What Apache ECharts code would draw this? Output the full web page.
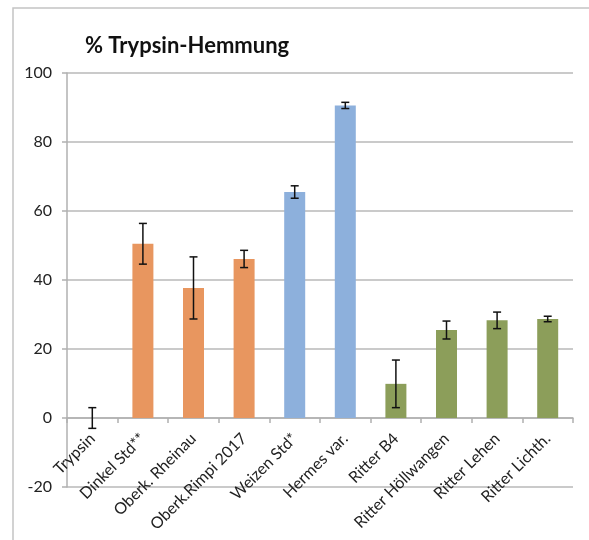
<!DOCTYPE html>
<html>
<head>
<meta charset="utf-8">
<script src="https://cdn.jsdelivr.net/npm/echarts@6/dist/echarts.min.js"></script>
<style>
  html, body { margin: 0; padding: 0; background: #fff; }
  #chart { width: 589px; height: 540px; }
</style>
</head>
<body>
<div id="chart"></div>
<script>
// Kategorien (Proben)
const categories = [
  'Trypsin', 'Dinkel Std**', 'Oberk. Rheinau', 'Oberk.Rimpi 2017', 'Weizen Std*',
  'Hermes var.', 'Ritter B4', 'Ritter Höllwangen', 'Ritter Lehen', 'Ritter Lichth.'
];
// % Hemmung (Mittelwerte)
const values = [0, 50.5, 37.7, 46.1, 65.5, 90.6, 9.9, 25.5, 28.3, 28.7];
// Standardabweichung (+/-)
const errors = [3.0, 5.9, 9.0, 2.5, 1.8, 0.9, 6.9, 2.6, 2.4, 0.8];
// Gruppe je Balken: 0 = Dinkel, 1 = Weizen, 2 = Ritter
const groups = [0, 0, 0, 0, 1, 1, 2, 2, 2, 2];
const groupColors = ['#E8965F', '#8DB0DC', '#8C9E5A'];
const yTicks = { min: -20, max: 100, step: 20 };

const chart = echarts.init(document.getElementById('chart'));

const FONT = 'Lato';
const GRID = { left: 67, right: 16, top: 73, bottom: 53 };
// x-Achse auf die Nulllinie schieben (Abstand unterer Rand -> 0)
const plotH = 540 - GRID.top - GRID.bottom;
const zeroOffset = plotH * (0 - yTicks.min) / (yTicks.max - yTicks.min);

const option = {
  animation: false,
  textStyle: { fontFamily: FONT },
  title: {
    text: '% Trypsin-Hemmung',
    left: 80,
    top: 30,
    textStyle: { fontSize: 22, fontWeight: 'bold', color: '#111', fontFamily: FONT }
  },
  graphic: [{
    // äusserer Rahmen (nur links und oben sichtbar)
    type: 'rect',
    shape: { x: 13, y: 8, width: 700, height: 700 },
    style: { fill: 'none', stroke: '#c4c4c4', lineWidth: 1.5 },
    silent: true
  }],
  grid: Object.assign({ outerBoundsMode: 'none', containLabel: false }, GRID),
  xAxis: {
    type: 'category',
    data: categories,
    position: 'bottom',
    offset: -zeroOffset,
    axisLine: { onZero: false, lineStyle: { color: '#b0b0b0', width: 1.5 } },
    axisTick: { show: true, length: 5, lineStyle: { color: '#b0b0b0', width: 1.5 } },
    axisLabel: {
      interval: 0,
      rotate: 45,
      margin: 18,
      fontSize: 16,
      color: '#222',
      fontFamily: FONT
    }
  },
  yAxis: {
    type: 'value',
    min: yTicks.min,
    max: yTicks.max,
    interval: yTicks.step,
    axisLine: { show: true, lineStyle: { color: '#b0b0b0', width: 1.5 } },
    axisTick: { show: true, length: 5, lineStyle: { color: '#b0b0b0', width: 1.5 } },
    axisLabel: { fontSize: 16, color: '#222', margin: 15, fontFamily: FONT },
    splitLine: { lineStyle: { color: '#b8b8b8', width: 1.5 } }
  },
  series: [
    {
      type: 'bar',
      barWidth: 21,
      data: values.map((v, i) => ({
        value: v,
        itemStyle: { color: i === 0 ? 'transparent' : groupColors[groups[i]] }
      })),
      z: 2
    },
    {
      // Fehlerbalken
      type: 'custom',
      data: values.map((v, i) => [i, v - errors[i], v + errors[i]]),
      renderItem: (params, api) => {
        const lo = api.coord([api.value(0), api.value(1)]);
        const hi = api.coord([api.value(0), api.value(2)]);
        const cap = 4;
        const style = { stroke: '#111', lineWidth: 1.5 };
        return {
          type: 'group',
          children: [
            { type: 'line', shape: { x1: hi[0], y1: hi[1], x2: lo[0], y2: lo[1] }, style },
            { type: 'line', shape: { x1: hi[0] - cap, y1: hi[1], x2: hi[0] + cap, y2: hi[1] }, style },
            { type: 'line', shape: { x1: lo[0] - cap, y1: lo[1], x2: lo[0] + cap, y2: lo[1] }, style }
          ]
        };
      },
      z: 3
    }
  ]
};

chart.setOption(option);
</script>
</body>
</html>
